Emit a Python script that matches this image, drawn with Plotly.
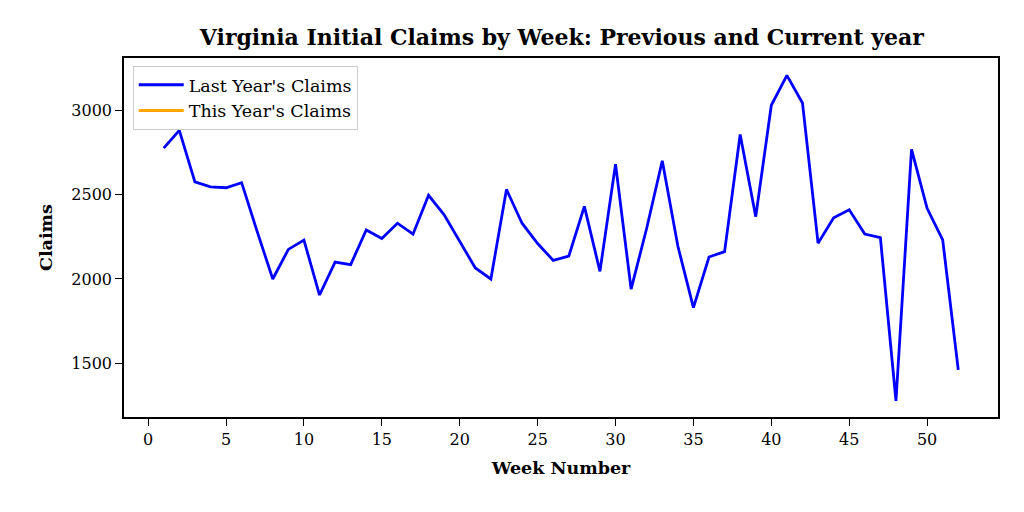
import plotly.graph_objects as go

weeks = list(range(1, 53))
last_year_claims = [2775, 2880, 2575, 2545, 2540, 2570, 2280, 2000, 2175, 2230,
                    1905, 2100, 2085, 2290, 2240, 2330, 2265, 2495, 2380, 2225,
                    2065, 2000, 2530, 2330, 2210, 2110, 2135, 2430, 2045, 2680,
                    1940, 2300, 2700, 2195, 1830, 2130, 2162, 2855, 2369, 3028,
                    3205, 3042, 2212, 2362, 2410, 2266, 2245, 1278, 2767, 2418,
                    2231, 1462]
this_year_weeks = []
this_year_claims = []

x_ticks = [0, 5, 10, 15, 20, 25, 30, 35, 40, 45, 50]
y_ticks = [1500, 2000, 2500, 3000]

FONT = "DejaVu Serif"

fig = go.Figure()
fig.add_trace(go.Scatter(x=weeks, y=last_year_claims, mode="lines",
                         name="Last Year's Claims",
                         line=dict(color="#0000ff", width=2.8)))
fig.add_trace(go.Scatter(x=this_year_weeks if this_year_weeks else [None],
                         y=this_year_claims if this_year_claims else [None],
                         mode="lines", name="This Year's Claims",
                         line=dict(color="#ffa500", width=2.8), showlegend=True))

axis_common = dict(showline=True, linecolor="black", linewidth=1.5, mirror=True,
                   ticks="outside", ticklen=7, tickwidth=1.3, tickcolor="black",
                   showgrid=False, zeroline=False,
                   tickfont=dict(family=FONT, size=16, color="black"))

fig.update_layout(
    width=1024, height=512,
    paper_bgcolor="white", plot_bgcolor="white",
    margin=dict(l=124, r=26, t=58, b=95),
    title=dict(text="<b>Virginia Initial Claims by Week: Previous and Current year</b>",
               x=0.5487, xanchor="center", y=0.927, yanchor="middle",
               font=dict(family=FONT, size=22, color="black")),
    xaxis=dict(range=[-1.55, 54.55], tickvals=x_ticks,
               title=dict(text="<b>Week Number</b>", standoff=14,
                          font=dict(family=FONT, size=17.5, color="black")),
               **axis_common),
    yaxis=dict(range=[1183, 3308], tickvals=y_ticks,
               title=dict(text="<b>Claims</b>", standoff=14,
                          font=dict(family=FONT, size=17.5, color="black")),
               **axis_common),
    legend=dict(x=0.01, y=0.978, xanchor="left", yanchor="top",
                bgcolor="rgba(255,255,255,0.85)", bordercolor="#cccccc",
                borderwidth=1, font=dict(family=FONT, size=17.5, color="black"),
                itemwidth=45, tracegroupgap=0),
    showlegend=True,
)

fig.write_html("out.html", config={"displayModeBar": False},
               post_script="document.body.style.margin='0';document.body.style.padding='0';")
